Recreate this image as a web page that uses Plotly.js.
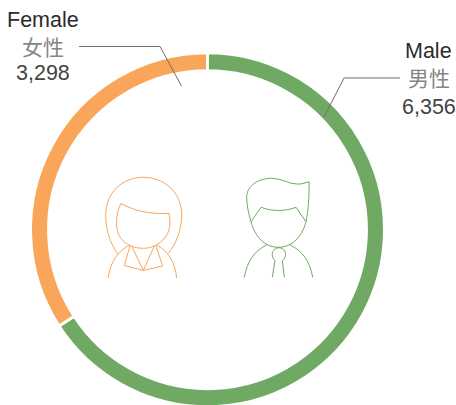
<!DOCTYPE html>
<html>
<head>
<meta charset="utf-8">
<script src="https://cdn.plot.ly/plotly-3.0.1.min.js"></script>
<style>html,body{margin:0;padding:0;background:#fff;overflow:hidden;width:456px;height:405px}#chart{width:456px;height:412px}</style>
</head>
<body>
<div id="chart"></div>
<script>
var categories = ["Male", "Female"];
var categoriesZh = ["男性", "女性"];
var values = [6356, 3298];
var valueLabels = ["6,356", "3,298"];
var colors = ["#6FA963", "#F9A65A"];

var W = 456, H = 412;
var cx = 207.5, cy = 229.7, R = 177;

function px(d) {
  var isX = true;
  return d.replace(/-?\d+(\.\d+)?/g, function (n) {
    var v = parseFloat(n);
    var out = isX ? v / W : 1 - v / H;
    isX = !isX;
    return out.toFixed(5);
  });
}
function stroke(d, color, width) {
  return {type: "path", xref: "paper", yref: "paper", path: px(d),
          line: {color: color, width: width}, fillcolor: "rgba(0,0,0,0)", layer: "above"};
}

var femaleIcon = [
  "M117.7 254 C110 243 105.7 230 105.7 215 C105.7 193 122 177.3 143.3 177.3 C165 177.3 181.7 193 181.7 215 C181.7 230 176 244 168.3 253.3",
  "M121 203.3 C134 211 150 214.5 169 213.3 C171 224 170 232 164 239 C158 245 151 248.3 143.3 248.3 C134 248.3 126 245 121 238.5 C115 231 115 215 121 203.3 Z",
  "M108.3 278 C110 262 118 251 130 245",
  "M176.7 278 C175 262 168 251 156.7 245",
  "M130 246 L124.3 265.5 L143.3 270.5 L131.7 246",
  "M155.7 245.3 L162.7 266 L143.3 270.5 L154.3 246"
];
var maleIcon = [
  "M251 221.7 C248 212 246.7 204 246.7 196.7 C247 186 258 178.3 271.7 178.3 C282 178.3 288 184 296.7 184 C301 184.5 305 183 309 181.7 C309.5 197 308 212 306 221.7",
  "M251 221.7 L261 207.3 C272 211.5 285 211.5 296 207.3 L306 221.7",
  "M251 221.7 C255 237 265 247.3 278.3 247.3 C292 247.3 302 237 306 221.7",
  "M244.3 277.3 C247 262 254 251 266.7 245",
  "M312.7 277.3 C310 262 303 251 290 245",
  "M275 260.7 C270 256 272 248 279 247.7 C286 248 288 256 282.3 260.7",
  "M275 260.7 L272.3 277.3",
  "M282.3 260.7 L284.3 277.3"
];
var leaders = [
  "M400 78 L344 78 L324 117",
  "M79 46.5 L160 46.5 L181.5 86"
];

var shapes = [];
femaleIcon.forEach(function (d) { shapes.push(stroke(d, colors[1], 1)); });
maleIcon.forEach(function (d) { shapes.push(stroke(d, colors[0], 1)); });
leaders.forEach(function (d) { shapes.push(stroke(d, "#6e6e6e", 1)); });

function label(text, x, y, size, color, family) {
  return {text: text, xref: "paper", yref: "paper", x: x / W, y: 1 - y / H,
          xanchor: "center", yanchor: "middle", showarrow: false,
          font: {size: size, color: color, family: family}};
}
var latin = "Liberation Sans, Arial, sans-serif";
var cjk = "Noto Sans CJK SC, sans-serif";
var annotations = [
  label(categories[0], 428.5, 50.5, 21.5, "#2b2b2b", latin),
  label(categoriesZh[0], 428.5, 77.5, 21, "#858585", cjk),
  label(valueLabels[0], 428.5, 107.5, 21.5, "#444444", latin),
  label(categories[1], 43, 20, 21.5, "#2b2b2b", latin),
  label(categoriesZh[1], 43, 45.5, 21, "#858585", cjk),
  label(valueLabels[1], 43, 73.5, 21.5, "#444444", latin)
];

Plotly.newPlot("chart", [{
  type: "pie",
  labels: categories,
  values: values,
  hole: 0.898,
  sort: false,
  direction: "clockwise",
  rotation: 0,
  textinfo: "none",
  hoverinfo: "none",
  marker: {colors: colors, line: {color: "#ffffff", width: 3}},
  domain: {x: [(cx - R) / W, (cx + R) / W], y: [1 - (cy + R) / H, 1 - (cy - R) / H]}
}], {
  width: W, height: H,
  margin: {l: 0, r: 0, t: 0, b: 0},
  showlegend: false,
  paper_bgcolor: "#ffffff",
  shapes: shapes,
  annotations: annotations
}, {displayModeBar: false, staticPlot: true});
</script>
</body>
</html>
